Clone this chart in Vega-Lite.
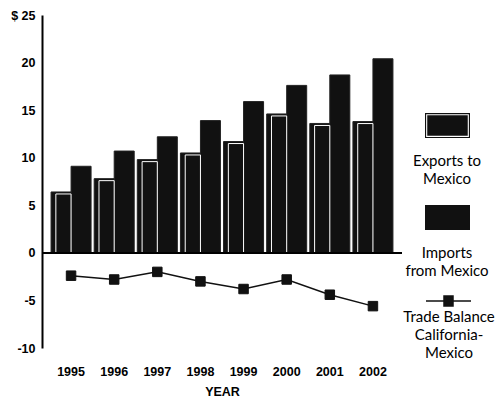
{
  "$schema": "https://vega.github.io/schema/vega-lite/v6.json",
  "width": 360,
  "height": 333,
  "autosize": {"type": "none"},
  "padding": {"left": 42, "top": 15, "right": 95, "bottom": 52},
  "background": "white",
  "config": {
    "view": {"stroke": null},
    "font": "Liberation Sans",
    "style": {"guide-label": {"lineHeight": 18}},
    "legend": {
      "orient": "none",
      "legendX": 383,
      "title": null,
      "padding": 0,
      "symbolSize": 2025,
      "labelAlign": "center",
      "labelBaseline": "top",
      "labelOffset": -23,
      "labelFont": "Lato",
      "labelFontSize": 15,
      "labelColor": "black",
      "labelLimit": 0
    }
  },
  "data": {
    "values": [
      {"year": "1995", "series": "Exports to Mexico", "value": 6.4},
      {"year": "1996", "series": "Exports to Mexico", "value": 7.8},
      {"year": "1997", "series": "Exports to Mexico", "value": 9.8},
      {"year": "1998", "series": "Exports to Mexico", "value": 10.5},
      {"year": "1999", "series": "Exports to Mexico", "value": 11.7},
      {"year": "2000", "series": "Exports to Mexico", "value": 14.6},
      {"year": "2001", "series": "Exports to Mexico", "value": 13.6},
      {"year": "2002", "series": "Exports to Mexico", "value": 13.8},
      {"year": "1995", "series": "Imports from Mexico", "value": 9.1},
      {"year": "1996", "series": "Imports from Mexico", "value": 10.7},
      {"year": "1997", "series": "Imports from Mexico", "value": 12.2},
      {"year": "1998", "series": "Imports from Mexico", "value": 13.9},
      {"year": "1999", "series": "Imports from Mexico", "value": 15.9},
      {"year": "2000", "series": "Imports from Mexico", "value": 17.6},
      {"year": "2001", "series": "Imports from Mexico", "value": 18.7},
      {"year": "2002", "series": "Imports from Mexico", "value": 20.4},
      {"year": "1995", "series": "Trade Balance California-Mexico", "value": -2.4},
      {"year": "1996", "series": "Trade Balance California-Mexico", "value": -2.8},
      {"year": "1997", "series": "Trade Balance California-Mexico", "value": -2.0},
      {"year": "1998", "series": "Trade Balance California-Mexico", "value": -3.0},
      {"year": "1999", "series": "Trade Balance California-Mexico", "value": -3.8},
      {"year": "2000", "series": "Trade Balance California-Mexico", "value": -2.8},
      {"year": "2001", "series": "Trade Balance California-Mexico", "value": -4.4},
      {"year": "2002", "series": "Trade Balance California-Mexico", "value": -5.6}
    ]
  },
  "encoding": {
    "x": {
      "field": "year",
      "type": "ordinal",
      "scale": {"paddingInner": 0.072, "paddingOuter": 0.21},
      "axis": {
        "orient": "bottom",
        "domain": false,
        "ticks": false,
        "labelAngle": 0,
        "labelPadding": 17,
        "labelFont": "Liberation Sans",
        "labelFontSize": 12.5,
        "labelFontWeight": "bold",
        "labelColor": "black",
        "title": "YEAR",
        "titleFont": "Liberation Sans",
        "titleFontSize": 12.5,
        "titleFontWeight": "bold",
        "titleColor": "black",
        "titlePadding": 8
      }
    },
    "y": {
      "field": "value",
      "type": "quantitative",
      "scale": {"domain": [-10, 25], "nice": false, "zero": false},
      "axis": {
        "values": [-10, -5, 0, 5, 10, 15, 20, 25],
        "ticks": false,
        "grid": false,
        "domain": true,
        "domainColor": "black",
        "domainWidth": 2,
        "labelExpr": "datum.value == 25 ? '$ 25' : toString(datum.value)",
        "labelFont": "Liberation Sans",
        "labelFontSize": 12.5,
        "labelFontWeight": "bold",
        "labelColor": "black",
        "labelPadding": 7,
        "title": null
      }
    }
  },
  "layer": [
    {
      "transform": [{"filter": "datum.series == 'Exports to Mexico'"}],
      "mark": {"type": "bar", "stroke": "#222", "strokeWidth": 1},
      "encoding": {
        "xOffset": {"field": "series", "type": "nominal", "scale": {"domain": ["Exports to Mexico", "Imports from Mexico"], "paddingInner": 0}},
        "fill": {
          "field": "series",
          "type": "nominal",
          "scale": {"domain": ["Exports to Mexico"], "range": ["#111111"]},
          "legend": {
            "legendY": 116.5,
            "symbolType": "M-1,-1.82H1V-0.71H-1Z M-0.95,-1.77V-0.76H0.95V-1.77Z M-0.9,-1.72H0.9V-0.81H-0.9Z",
            "symbolStrokeWidth": 0,
            "labelExpr": "['Exports to', 'Mexico']"
          }
        }
      }
    },
    {
      "transform": [{"filter": "datum.series == 'Imports from Mexico'"}],
      "mark": {"type": "bar", "stroke": "#222", "strokeWidth": 1},
      "encoding": {
        "xOffset": {"field": "series", "type": "nominal", "scale": {"domain": ["Exports to Mexico", "Imports from Mexico"], "paddingInner": 0}},
        "color": {
          "field": "series",
          "type": "nominal",
          "scale": {"domain": ["Imports from Mexico"], "range": ["#111111"]},
          "legend": {
            "legendY": 208.5,
            "symbolType": "M-1,-1.82H1V-0.71H-1Z",
            "symbolStrokeWidth": 0,
            "labelExpr": "['Imports', 'from Mexico']"
          }
        }
      }
    },
    {
      "transform": [{"filter": "datum.series == 'Exports to Mexico'"}],
      "mark": {"type": "bar", "fill": "black", "fillOpacity": 0, "stroke": "white", "strokeWidth": 1, "width": {"band": 0.76}, "yOffset": 2, "y2Offset": -2},
      "encoding": {
        "xOffset": {"field": "series", "type": "nominal", "scale": {"domain": ["Exports to Mexico", "Imports from Mexico"], "paddingInner": 0}}
      }
    },
    {
      "mark": {"type": "rule", "color": "black", "strokeWidth": 1.5},
      "encoding": {"y": {"datum": 0}, "x": {"value": 0}, "x2": {"value": 360}}
    },
    {
      "transform": [{"filter": "datum.series == 'Trade Balance California-Mexico'"}],
      "mark": {"type": "line", "strokeWidth": 1.5},
      "encoding": {
        "stroke": {
          "field": "series",
          "type": "nominal",
          "scale": {"domain": ["Trade Balance California-Mexico"], "range": ["#111111"]},
          "legend": {
            "legendY": 271.5,
            "symbolType": "M-1,-0.4H-0.2M0.2,-0.4H1M-0.2,-0.62H0.2V-0.18H-0.2Z",
            "symbolStrokeWidth": 1.5,
            "symbolFillColor": "#111111",
            "labelExpr": "['Trade Balance', 'California-', 'Mexico']"
          }
        }
      }
    },
    {
      "transform": [{"filter": "datum.series == 'Trade Balance California-Mexico'"}],
      "mark": {"type": "point", "shape": "square", "filled": true, "size": 90, "opacity": 1, "color": "#111111", "stroke": "#111111", "strokeWidth": 1},
      "encoding": {}
    }
  ]
}
